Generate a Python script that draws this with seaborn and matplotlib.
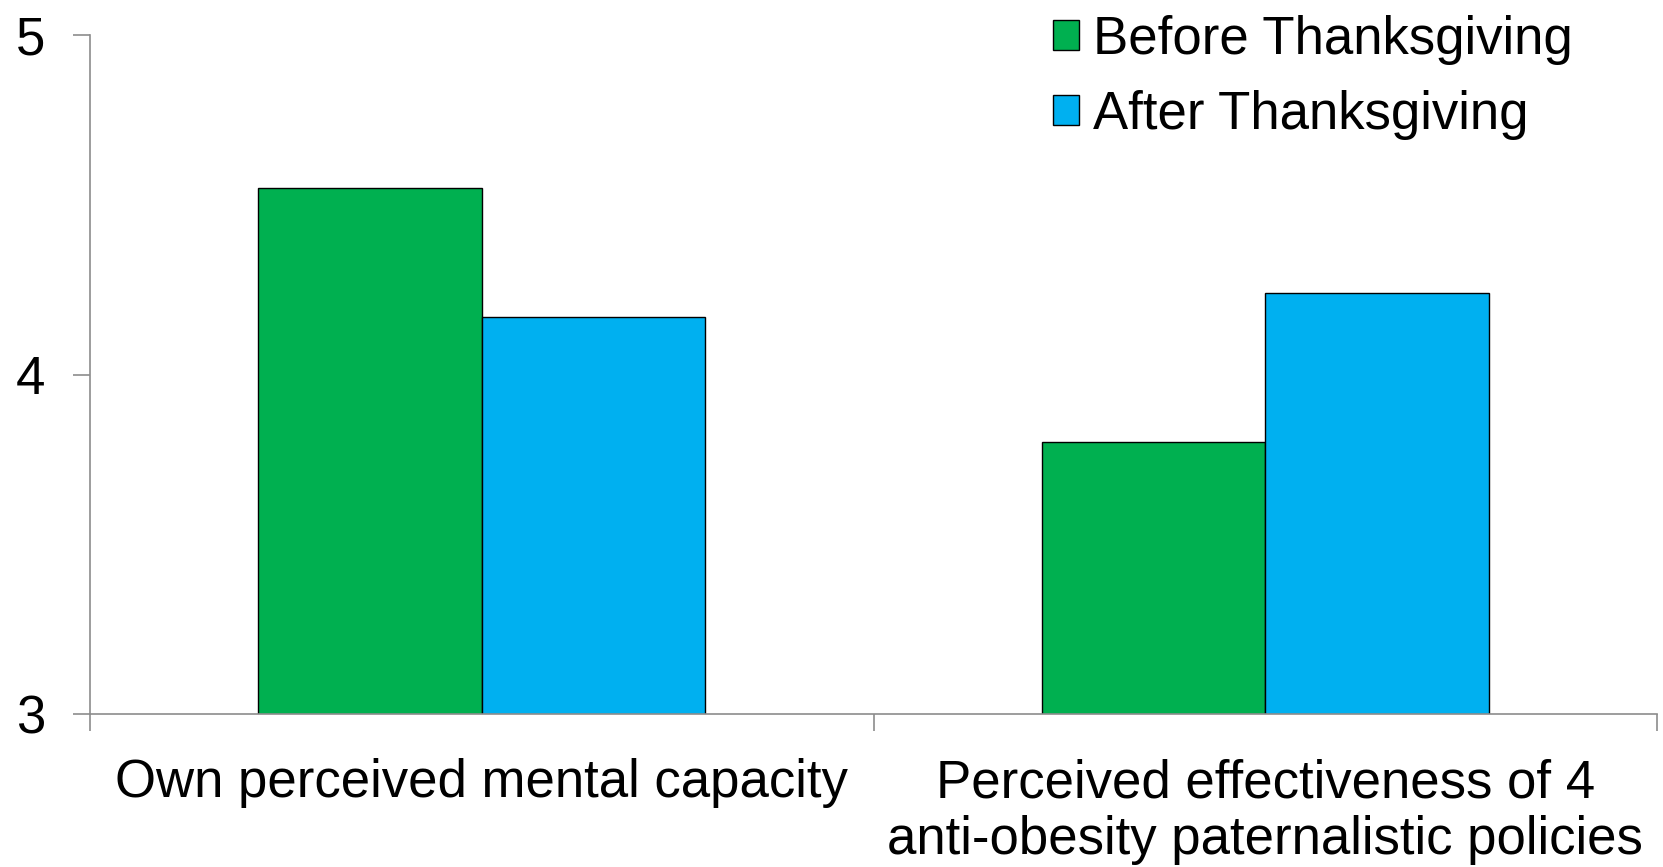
import numpy as np
import matplotlib as mpl
mpl.use("Agg")
import matplotlib.pyplot as plt
import matplotlib.patches as mpatches
import seaborn as sns
import pandas as pd

# values
categories = ["Own perceived mental capacity",
              "Perceived effectiveness of 4\nanti-obesity paternalistic policies"]
periods = ["Before Thanksgiving", "After Thanksgiving"]
before = [4.55, 3.80]
after = [4.17, 4.24]
y_ticks = [3, 4, 5]

colors = {"Before Thanksgiving": "#00B050", "After Thanksgiving": "#00B0F0"}

df = pd.DataFrame({
    "category": categories * 2,
    "period": [periods[0]] * 2 + [periods[1]] * 2,
    "score": before + after,
})

sns.set_style("white")
plt.rcParams["font.family"] = ["Liberation Sans", "DejaVu Sans"]
plt.rcParams["text.color"] = "black"
plt.rcParams["xtick.color"] = "black"
plt.rcParams["ytick.color"] = "black"
fs = 38
axis_grey = "#8C8C8C"

fig = plt.figure(figsize=(16.63, 8.67), dpi=100)
ax = fig.add_axes([90 / 1663, 1 - 714 / 867, (1657 - 90) / 1663, (714 - 35) / 867])

sns.barplot(data=df, x="category", y="score", hue="period", palette=colors,
            order=categories, hue_order=periods, width=0.57, dodge=True,
            saturation=1, edgecolor="black", linewidth=1.0, ax=ax, legend=False)

# bars start from the baseline 3, not 0
ax.set_ylim(3, 5)
ax.set_xlim(-0.5, 1.5)
ax.set_yticks(y_ticks)
ax.set_xlabel("")
ax.set_ylabel("")

for side in ["top", "right"]:
    ax.spines[side].set_visible(False)
for side in ["left", "bottom"]:
    ax.spines[side].set_color(axis_grey)
    ax.spines[side].set_linewidth(1.2)

ax.tick_params(axis="y", which="major", direction="out", length=12, width=1.2,
               color=axis_grey, labelcolor="black", labelsize=fs, pad=20, left=True)
ax.tick_params(axis="x", which="major", length=0, labelsize=fs, labelcolor="black", pad=32)
ax.set_xticks([-0.5, 0.5, 1.5], minor=True)
ax.tick_params(axis="x", which="minor", direction="out", length=12, width=1.2,
               color=axis_grey, bottom=True)
for lab in ax.get_xticklabels():
    lab.set_linespacing(1.18)

handles = [mpatches.Patch(facecolor=colors[p], edgecolor="black", linewidth=1.0, label=p)
           for p in periods]
fig.legend(handles=handles, loc="upper left", bbox_to_anchor=(1053 / 1663, 0.983),
           bbox_transform=fig.transFigure, frameon=False, fontsize=fs,
           handlelength=0.5, handleheight=0.5, handletextpad=0.25,
           labelspacing=0.48, borderpad=0, borderaxespad=0, labelcolor="black")

fig.savefig("out.png", dpi=100)
